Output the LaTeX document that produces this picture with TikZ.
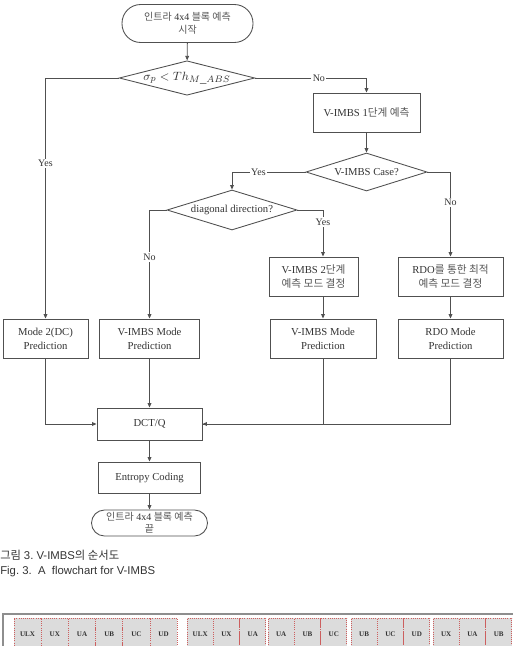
\documentclass[tikz,border=0pt]{standalone}
\usepackage{fontspec}
\setmainfont{Liberation Serif}
\newfontfamily\kr{Noto Sans CJK KR}
\newfontfamily\capfont{Liberation Sans}
\usetikzlibrary{shapes,calc}
\usetikzlibrary{arrows.meta}
\tikzset{>={Triangle[width=1.0mm,length=1.2mm]}}
\definecolor{linegray}{HTML}{505050}
\definecolor{textgray}{HTML}{333333}
\definecolor{krgray}{HTML}{555555}
\definecolor{cellfill}{HTML}{DCDCDC}
\definecolor{cellred}{HTML}{CC5F5F}
\definecolor{framegray}{HTML}{8E8E8E}

\begin{document}
\begin{tikzpicture}[x=0.75pt,y=-0.75pt]
  \tikzstyle{every node} = [text=textgray]
  \tikzstyle{pbox} = [draw=linegray, line width=0.65pt, rectangle, inner sep=1pt, align=center, font=\fontsize{8}{10.5}\selectfont]
  \tikzstyle{dnode} = [draw=linegray, line width=0.65pt, diamond, inner sep=0pt, align=center, font=\fontsize{8}{10}\selectfont]
  \tikzstyle{tnode} = [draw=linegray, line width=0.65pt, rectangle, inner sep=1pt, align=center, font=\fontsize{7.5}{10}\selectfont]
  \tikzstyle{lbl} = [fill=white, inner sep=1pt, font=\fontsize{7.5}{9}\selectfont]
  \tikzstyle{flow} = [draw=linegray, line width=0.65pt]
  \tikzstyle{cell} = [draw=cellred, densely dotted, fill=cellfill, line width=0.6pt, inner sep=0pt, minimum height=24pt, font=\fontsize{5.3}{6}\selectfont\bfseries]

  \useasboundingbox (0,0) rectangle (512,646);

  % start / end
  \node[tnode, rounded corners=14pt, minimum width=98.25pt, minimum height=28.5pt] (start) at (187.5,23.5)
    {{\color{krgray}\kr 인트라} 4x4 {\color{krgray}\kr 블록 예측}\\{\color{krgray}\kr 시작}};
  \node[tnode, rounded corners=9.75pt, minimum width=87pt, minimum height=19.5pt, inner sep=0pt] (finish) at (149.5,523)
    {{\color{krgray}\kr 인트라} 4x4 {\color{krgray}\kr 블록 예측}\\[-1pt]{\color{krgray}\kr 끝}};

  % decisions
  \node[dnode, aspect=3.94, minimum width=100.5pt, minimum height=25.5pt, font=\fontsize{9.5}{10}\selectfont] (sig) at (187,78)
    {$\sigma_{p} < Th_{M\_ABS}$};
  \node[dnode, aspect=3.18, minimum width=90.75pt, minimum height=28.5pt] (vcase) at (366.5,172) {V-IMBS Case?};
  \node[dnode, aspect=3.25, minimum width=97.5pt, minimum height=30pt] (diag) at (232,210) {diagonal direction?};

  % process boxes
  \node[pbox, minimum width=80.25pt, minimum height=29.25pt] (step1) at (366.5,112.5)
    {V-IMBS 1{\color{krgray}\kr 단계 예측}};
  \node[pbox, minimum width=66.75pt, minimum height=29.25pt] (step2) at (313.5,276.5)
    {V-IMBS 2{\color{krgray}\kr 단계}\\{\color{krgray}\kr 예측 모드 결정}};
  \node[pbox, minimum width=78.75pt, minimum height=29.25pt] (rdosel) at (450.5,276.5)
    {RDO{\color{krgray}\kr 를 통한 최적}\\{\color{krgray}\kr 예측 모드 결정}};

  \node[pbox, minimum width=63.75pt, minimum height=29.25pt] (dcpred) at (45.5,338.5) {Mode 2(DC)\\Prediction};
  \node[pbox, minimum width=75pt, minimum height=29.25pt] (vpred1) at (149.5,338.5) {V-IMBS Mode\\Prediction};
  \node[pbox, minimum width=79.5pt, minimum height=29.25pt] (vpred2) at (323,338.5) {V-IMBS Mode\\Prediction};
  \node[pbox, minimum width=78.75pt, minimum height=29.25pt] (rdopred) at (450.5,338.5) {RDO Mode\\Prediction};

  \node[pbox, minimum width=78.75pt, minimum height=24pt] (dctq) at (149.5,424) {DCT/Q};
  \node[pbox, minimum width=76.5pt, minimum height=23.25pt] (entropy) at (149.5,477.5) {Entropy Coding};

  % connectors
  \draw[flow,->] (start) -- (sig);
  \draw[flow,->] (sig.west) -| node[lbl, pos=0.678] (yes1) {Yes} (dcpred.north);
  \draw[flow,->] (sig.east) -| node[lbl, pos=0.286] (no1) {No} (step1.north);
  \draw[flow,->] (step1) -- (vcase);
  \draw[flow,->] (vcase.west) -| node[lbl, pos=0.32] (yes2) {Yes} (diag.north);
  \draw[flow,->] (vcase.east) -| node[lbl, pos=0.68] (no2) {No} (rdosel.north);
  \draw[flow,->] (diag.west) -| node[lbl, pos=0.716] (no3) {No} (vpred1.north);
  \draw[flow,->] (diag.east) -| node[lbl, pos=0.63] (yes3) {Yes} (step2.north -| vpred2);
  \draw[flow,->] (step2.south -| vpred2) -- (vpred2);
  \draw[flow,->] (rdosel) -- (rdopred);
  \draw[flow,->] (dcpred.south) |- (dctq.west);
  \draw[flow,->] (vpred1) -- (dctq);
  \draw[flow,->] (vpred2.south) |- (dctq.east);
  \draw[flow] (rdopred.south) |- (dctq.east);
  \draw[flow,->] (dctq) -- (entropy);
  \draw[flow,->] (entropy) -- (finish);

  % caption
  \node[anchor=west, inner sep=0pt, font=\fontsize{8.5}{10}\selectfont] (capkr) at (0,555)
    {{\kr 그림} \capfont 3.\ V-IMBS{\kr 의 순서도}};
  \node[anchor=west, inner sep=0pt, font=\fontsize{8.5}{10}\selectfont\capfont] (capen) at (0,572)
    {Fig.\ 3.\ \ A\ \ flowchart\ for\ V-IMBS};

  % next figure, cut off
  \draw[framegray, line width=1.2pt] (3,652) -- (3,614) -- (516,614);
  \foreach \lab [count=\i] in {ULX,UX,UA,UB,UC,UD}
    \node[cell, minimum width=20.4pt] (ga\i) at ({14+27.2*(\i-0.5)},634) {\lab};
  \foreach \gx/\gname/\labs in {187/gb/{ULX,UX,UA}, 268/gc/{UA,UB,UC}, 351/gd/{UB,UC,UD}, 433/ge/{UX,UA,UB}}
    \foreach \lab [count=\i] in \labs
      \node[cell, minimum width=19.7pt] (\gname\i) at ({\gx+26.3*(\i-0.5)},634) {\lab};
\end{tikzpicture}
\end{document}
